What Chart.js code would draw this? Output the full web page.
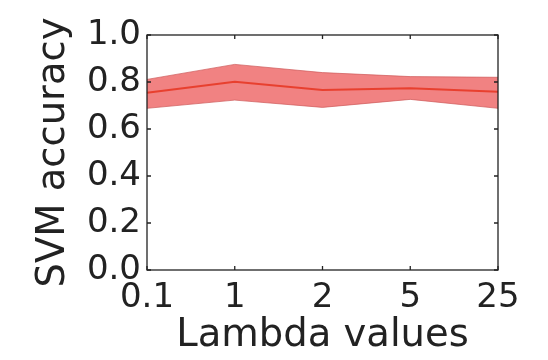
<!DOCTYPE html>
<html>
<head>
<meta charset="utf-8">
<script src="https://cdn.jsdelivr.net/npm/chart.js@4.4.1/dist/chart.umd.min.js"></script>
<style>
  html, body { margin: 0; padding: 0; background: #fff; }
  #wrap { width: 548px; height: 360px; }
</style>
</head>
<body>
<div id="wrap"><canvas id="myChart" width="548" height="360"></canvas></div>
<script>
// данные с картинки
const lambdaLabels = ['0.1', '1', '2', '5', '25'];
const accMean = [0.754, 0.801, 0.766, 0.773, 0.759];
const accUpper = [0.811, 0.875, 0.840, 0.823, 0.820];
const accLower = [0.688, 0.723, 0.692, 0.726, 0.688];
const yTicks = [0, 0.2, 0.4, 0.6, 0.8, 1.0];

const fontFam = "'DejaVu Sans', sans-serif";
const textCol = '#222';

/** рамка и засечки внутрь, как в matplotlib */
const innerTicks = {
  id: 'innerTicks',
  afterDraw(chart) {
    const { ctx, chartArea: a, scales } = chart;
    const len = 4;
    ctx.save();
    ctx.strokeStyle = '#222';
    ctx.lineWidth = 1.3;
    ctx.strokeRect(a.left, a.top, a.right - a.left, a.bottom - a.top);
    ctx.beginPath();
    scales.x.ticks.forEach((t, i) => {
      const px = scales.x.getPixelForTick(i);
      ctx.moveTo(px, a.bottom); ctx.lineTo(px, a.bottom - len);
      ctx.moveTo(px, a.top); ctx.lineTo(px, a.top + len);
    });
    yTicks.forEach((v) => {
      const py = scales.y.getPixelForValue(v);
      ctx.moveTo(a.left, py); ctx.lineTo(a.left + len, py);
      ctx.moveTo(a.right, py); ctx.lineTo(a.right - len, py);
    });
    ctx.stroke();
    ctx.restore();
  },
};

const config = {
  type: 'line',
  data: {
    labels: lambdaLabels,
    datasets: [{
      label: 'upper',
      data: accUpper,
      borderColor: 'rgba(205,90,90,0.7)',
      borderWidth: 1,
      backgroundColor: 'rgba(241,130,130,1)',
      fill: '+1',
      pointRadius: 0,
      tension: 0,
      order: 2,
    }, {
      label: 'lower',
      data: accLower,
      borderColor: 'rgba(205,90,90,0.7)',
      borderWidth: 1,
      fill: false,
      pointRadius: 0,
      tension: 0,
      order: 1,
    }, {
      label: 'mean',
      data: accMean,
      borderColor: '#e8402f',
      borderWidth: 2,
      fill: false,
      pointRadius: 0,
      tension: 0,
      order: 0,
    }],
  },
  options: {
    responsive: false,
    animation: false,
    layout: {
      padding: { top: 35, right: 50, bottom: 0, left: 0 },
    },
    plugins: {
      legend: { display: false },
      tooltip: { enabled: false },
    },
    scales: {
      x: {
        offset: false,
        grid: { display: false, drawTicks: false },
        border: { display: false },
        ticks: {
          font: { family: fontFam, size: 34 },
          color: textCol,
          padding: 8,
          maxRotation: 0,
          autoSkip: false,
        },
        title: {
          display: true,
          text: 'Lambda values',
          font: { family: fontFam, size: 38.5 },
          color: textCol,
          padding: { top: 0, bottom: 1 },
        },
        afterFit: (scale) => { scale.height = 90; },
      },
      y: {
        min: 0,
        max: 1,
        grid: { display: false, drawTicks: false },
        border: { display: false },
        ticks: {
          stepSize: 0.2,
          font: { family: fontFam, size: 34 },
          color: textCol,
          padding: 6,
          callback: (v) => Number(v).toFixed(1),
        },
        title: {
          display: true,
          text: 'SVM accuracy',
          font: { family: fontFam, size: 38.5 },
          color: textCol,
          padding: { top: 31, bottom: 0 },
        },
        afterFit: (scale) => { scale.width = 147; },
      },
    },
  },
  plugins: [innerTicks],
};

const myChart = new Chart(document.getElementById('myChart'), config);
</script>
</body>
</html>
